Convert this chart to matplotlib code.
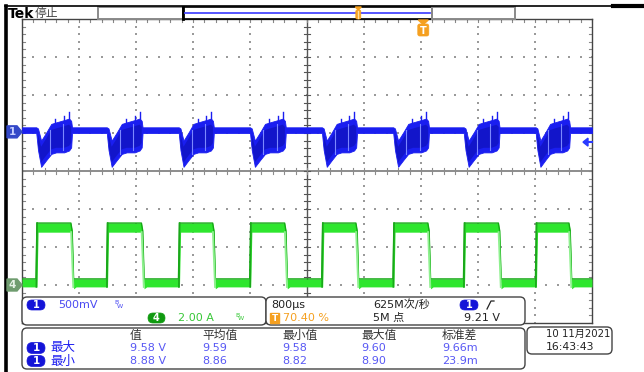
import numpy as np
import matplotlib
matplotlib.use("Agg")
import matplotlib.pyplot as plt
from matplotlib.patches import FancyBboxPatch, Rectangle, Polygon

plt.rcParams["font.family"] = ["DejaVu Sans", "Noto Sans CJK SC"]

W, H, DPI = 644, 372, 100

# ---- acquisition settings -------------------------------------------------
time_per_div_ms = 0.8          # 800 µs/div
n_hdiv, n_vdiv = 10, 8
trigger_pos_pct = 70.40
ch1_offset_div = 1.03          # channel 1 ground marker
ch4_offset_div = -3.00         # channel 4 ground marker
trig_level_div = 0.76          # 9.21 V on channel 1

# ---- channel 4 (2.00 A/div): switching edges, ms ---------------------------
rise_ms = [0.20, 1.19, 2.20, 3.20, 4.21, 5.21, 6.20, 7.21]
fall_ms = [0.69, 1.68, 2.68, 3.69, 4.69, 5.70, 6.69, 7.68]
ch4_high_div = [-1.37, -1.61]   # top / bottom of the trace band
ch4_low_div = [-2.84, -3.05]

# ---- channel 1 (500 mV/div) -----------------------------------------------
ch1_flat_div = [1.15, 1.00]
# disturbance during the on-time: fraction of on-time, upper and lower edge (div)
ch1_burst_frac = [0.00, 0.05, 0.14, 0.29, 0.43, 0.57, 0.80, 0.94, 1.00]
ch1_burst_top = [1.15, 1.12, 0.80, 1.02, 1.24, 1.28, 1.34, 1.38, 1.32]
ch1_burst_bot = [1.00, 0.55, 0.11, 0.29, 0.45, 0.49, 0.49, 0.54, 0.62]
ch1_spike_frac = [0.55, 0.80, 0.95]
ch1_spike_top = [1.38, 1.44, 1.55]
ch1_streak_frac = [0.38, 0.76]

# ---- readouts -------------------------------------------------------------
ch1_scale = "500mV"
ch4_scale = "2.00 A"
timebase = "800µs"
trig_pos_text = "70.40 %"
sample_rate = "625M次/秒"
record_len = "5M 点"
trig_level = "9.21 V"
meas_headers = ["值", "平均值", "最小值", "最大值", "标准差"]
meas_rows = ["最大", "最小"]
meas_max = ["9.58 V", "9.59", "9.58", "9.60", "9.66m"]
meas_min = ["8.88 V", "8.86", "8.82", "8.90", "23.9m"]
date_text = "10 11月2021"
time_text = "16:43:43"

BLUE = "#1a1ef0"
BLUE_TXT = "#4a4af2"
GREEN = "#2ee62e"
ORANGE = "#f5a020"

fig = plt.figure(figsize=(W / DPI, H / DPI), dpi=DPI)
fig.patch.set_facecolor("white")

# graticule box in pixels
gx0, gy0, gx1, gy1 = 22, 19, 592, 323
ax = fig.add_axes([gx0 / W, 1 - gy1 / H, (gx1 - gx0) / W, (gy1 - gy0) / H])
tmax = time_per_div_ms * n_hdiv
ax.set_xlim(0, tmax)
ax.set_ylim(-n_vdiv / 2, n_vdiv / 2)
ax.set_xticks([])
ax.set_yticks([])
for s in ax.spines.values():
    s.set_color("#444444")
    s.set_linewidth(1.0)

# dotted graticule
minor_x = np.arange(0, tmax + 1e-9, time_per_div_ms / 5)
minor_y = np.arange(-4, 4 + 1e-9, 0.2)
for k in range(1, n_hdiv):
    if k == n_hdiv // 2:
        continue
    ax.scatter(np.full_like(minor_y, k * time_per_div_ms), minor_y, s=1.2,
               marker="s", color="#9a9a9a", linewidths=0, zorder=1)
for k in range(-3, 4):
    if k == 0:
        continue
    ax.scatter(minor_x, np.full_like(minor_x, k), s=1.2, marker="s",
               color="#9a9a9a", linewidths=0, zorder=1)

# centre cross-hair with minor ticks
tx = 3 * time_per_div_ms / 57
ty = 3 / 38
ax.axvline(tmax / 2, color="#555555", lw=1.0, zorder=1)
ax.axhline(0, color="#8c8c8c", lw=1.4, zorder=1)
for yv in minor_y:
    ax.plot([tmax / 2 - tx, tmax / 2 + tx], [yv, yv], color="#555555", lw=0.8, zorder=1)
    ax.plot([0, tx], [yv, yv], color="#888888", lw=0.8, zorder=1)
    ax.plot([tmax - tx, tmax], [yv, yv], color="#888888", lw=0.8, zorder=1)
for xv in minor_x:
    ax.plot([xv, xv], [-ty, ty], color="#8c8c8c", lw=0.8, zorder=1)
    ax.plot([xv, xv], [4 - ty, 4], color="#888888", lw=0.8, zorder=1)

# channel 4 trace
t4, top4, bot4 = [0.0], [ch4_low_div[0]], [ch4_low_div[1]]
for r, f in zip(rise_ms, fall_ms):
    t4 += [r - 0.004, r + 0.010, r + 0.026, f - 0.004, f + 0.014, f + 0.034, f + 0.07]
    top4 += [ch4_low_div[0], ch4_high_div[0], ch4_high_div[0], ch4_high_div[0],
             ch4_high_div[0] - 0.2, ch4_low_div[0], ch4_low_div[0]]
    bot4 += [ch4_low_div[1], ch4_low_div[1], ch4_high_div[1], ch4_high_div[1],
             ch4_low_div[1] + 0.4, ch4_low_div[1] - 0.05, ch4_low_div[1]]
t4.append(tmax)
top4.append(ch4_low_div[0])
bot4.append(ch4_low_div[1])
ax.fill_between(t4, bot4, top4, color=GREEN, lw=0, zorder=3)
ax.plot(t4, top4, color="#14a814", lw=1.0, zorder=4)
for r, f in zip(rise_ms, fall_ms):
    ax.plot([r + 0.002, r + 0.012], [ch4_low_div[1], ch4_high_div[0]], color="#1aa81a", lw=1.2, zorder=4)
    ax.plot([f, f + 0.03], [ch4_high_div[1], ch4_low_div[1]], color="#8ef08e", lw=1.4, zorder=4)

# channel 1 trace
t1, top1, bot1 = [0.0], [ch1_flat_div[0]], [ch1_flat_div[1]]
for r, f in zip(rise_ms, fall_ms):
    on = f - r
    for fr, a, b in zip(ch1_burst_frac, ch1_burst_top, ch1_burst_bot):
        t1.append(r + fr * on)
        top1.append(a)
        bot1.append(b)
    t1.append(f + 0.012)
    top1.append(ch1_flat_div[0])
    bot1.append(ch1_flat_div[1])
t1.append(tmax)
top1.append(ch1_flat_div[0])
bot1.append(ch1_flat_div[1])
t1 = np.array(t1)
top1 = np.array(top1)
bot1 = np.array(bot1)
ax.fill_between(t1, bot1, top1, color=BLUE, lw=0.6, edgecolor=BLUE, zorder=5)
inner_top = top1 - 0.16
inner_bot = bot1 + 0.12
ok = inner_top > inner_bot + 0.05
ax.fill_between(t1, inner_bot, inner_top, where=ok, color="#0a0c9c", alpha=0.45,
                lw=0, zorder=5)
for r, f in zip(rise_ms, fall_ms):
    on = f - r
    for fr, h in zip(ch1_spike_frac, ch1_spike_top):
        tt = r + fr * on
        ax.plot([tt, tt], [np.interp(tt, t1, top1) - 0.05, h], color=BLUE, lw=1.0, zorder=6)
    for fr in ch1_streak_frac:
        tt = r + fr * on
        ax.plot([tt, tt], [np.interp(tt, t1, bot1) + 0.05, np.interp(tt, t1, top1) - 0.08],
                color="#7c88ff", lw=0.8, zorder=7)

# ---- overlay in pixel units ----------------------------------------------
ov = fig.add_axes([0, 0, 1, 1], facecolor="none")
ov.set_xlim(0, W)
ov.set_ylim(H, 0)
ov.axis("off")


def div_to_py(d):
    return (gy0 + gy1) / 2 - d * (gy1 - gy0) / n_vdiv


def pill(x, y, w, h, color, label, fs=7):
    ov.add_patch(FancyBboxPatch((x, y), w, h, boxstyle=f"round,pad=0,rounding_size={h / 2}",
                                fc=color, ec=color, lw=0.5, zorder=10))
    ov.text(x + w / 2, y + h / 2 + 0.3, label, color="white", fontsize=fs, fontweight="bold",
            ha="center", va="center", zorder=11)


def box(x, y, w, h):
    ov.add_patch(FancyBboxPatch((x, y), w, h, boxstyle="round,pad=0,rounding_size=5",
                                fc="white", ec="#444444", lw=1.0, zorder=8))


# frame lines
ov.plot([5, 613], [6, 6], color="black", lw=1.2)
ov.plot([613, 644], [6, 6], color="black", lw=3)
ov.plot([6, 6], [6, H], color="black", lw=2.6)

# header
ov.text(8, 13.5, "Tek", fontsize=10, fontweight="bold", color="black", va="center", ha="left")
ov.text(35, 13.5, "停止", fontsize=8.5, color="#444444", va="center", ha="left")

# record view bar
ov.add_patch(Rectangle((98, 7), 85, 12, fc="none", ec="#8a8a8a", lw=1.4))
ov.add_patch(Rectangle((183, 7), 249, 12, fc="none", ec="black", lw=1.2))
ov.plot([183, 183], [7, 19], color="black", lw=2)
ov.add_patch(Rectangle((432, 7), 83, 12, fc="none", ec="#8a8a8a", lw=1.4))
ov.plot([185, 430], [12.5, 12.5], color="#4848ff", lw=1.3)
bar_x = 183 + 249 * trigger_pos_pct / 100
ov.add_patch(Polygon([[bar_x - 3, 7], [bar_x + 3, 7], [bar_x, 10]], color=ORANGE, zorder=6))
ov.add_patch(FancyBboxPatch((bar_x - 2.5, 10), 5, 9, boxstyle="round,pad=0,rounding_size=1.5",
                            fc=ORANGE, ec=ORANGE, lw=0.5, zorder=6))
ov.plot([bar_x, bar_x], [11, 18], color="#ffe0a0", lw=1, zorder=7)

# trigger position marker on the graticule
tpx = gx0 + (gx1 - gx0) * trigger_pos_pct / 100
ov.add_patch(Polygon([[tpx - 5, 20], [tpx + 5, 20], [tpx, 24.5]], color=ORANGE, zorder=6))
ov.add_patch(FancyBboxPatch((tpx - 5.5, 24), 11, 12, boxstyle="round,pad=0,rounding_size=2",
                            fc=ORANGE, ec=ORANGE, lw=0.5, zorder=6))
ov.text(tpx, 30.5, "T", color="white", fontsize=7, fontweight="bold", ha="center", va="center", zorder=7)

# channel ground markers
for off, fc, tc, lab in [(ch1_offset_div, "#3348c8", "#c8d0ff", "1"),
                         (ch4_offset_div, "#6f9c6f", "#e6f2e6", "4")]:
    py = div_to_py(off)
    ov.add_patch(Polygon([[7, py - 6], [17, py - 6], [22, py], [17, py + 6], [7, py + 6]],
                         color=fc, zorder=9))
    ov.text(12.5, py + 0.5, lab, color=tc, fontsize=7.5, fontweight="bold", ha="center",
            va="center", zorder=10)

# trigger level arrow
tly = div_to_py(trig_level_div)
ov.add_patch(Polygon([[583, tly], [588, tly - 4], [588, tly + 4]], color="#2a3aff", zorder=9))
ov.plot([586, 592], [tly, tly], color="#2a3aff", lw=1.5, zorder=9)

# readout boxes
box(22, 297, 244, 28)
box(266, 297, 259, 28)
box(22, 328, 503, 41)
box(527, 327, 85, 27)

# channel box
pill(27, 300, 18, 10, "#1414d8", "1")
ov.text(58, 305, ch1_scale, color=BLUE_TXT, fontsize=8, va="center", zorder=11)
ov.text(114, 302.5, "B", color=BLUE_TXT, fontsize=4.5, va="center", zorder=11)
ov.text(117, 306, "W", color=BLUE_TXT, fontsize=4.5, va="center", zorder=11)
pill(148, 313, 17, 10, "#109a10", "4")
ov.text(178, 318, ch4_scale, color="#38c838", fontsize=8, va="center", zorder=11)
ov.text(235, 315.5, "B", color="#38c838", fontsize=4.5, va="center", zorder=11)
ov.text(238, 319, "W", color="#38c838", fontsize=4.5, va="center", zorder=11)

# timebase / trigger box
ov.text(271, 305, timebase, color="#222222", fontsize=8, va="center", zorder=11)
ov.add_patch(Rectangle((270.5, 313), 9, 10, fc=ORANGE, ec=ORANGE, zorder=10))
ov.text(275, 318.5, "T", color="white", fontsize=6.5, fontweight="bold", ha="center", va="center", zorder=11)
ov.text(283, 318, trig_pos_text, color=ORANGE, fontsize=8, va="center", zorder=11)
ov.text(373, 305, sample_rate, color="#222222", fontsize=8, va="center", zorder=11)
ov.text(373, 318, record_len, color="#222222", fontsize=8, va="center", zorder=11)
pill(460, 300, 18, 10, "#1414d8", "1")
ov.plot([487, 491, 494], [309, 301, 301], color="#222222", lw=0.9, zorder=11)
ov.text(464, 318, trig_level, color="#222222", fontsize=8, va="center", zorder=11)

# measurement table
col_x = [130, 202, 282, 361, 442]
for cx, hdr in zip(col_x, meas_headers):
    ov.text(cx, 335, hdr, color="#333333", fontsize=8.5, va="center", zorder=11)
for ry, name, vals in [(348, meas_rows[0], meas_max), (361, meas_rows[1], meas_min)]:
    pill(27, ry - 5.5, 18, 11, "#1414d8", "1", fs=7.5)
    ov.text(50, ry, name, color="#1e1ef0", fontsize=9, va="center", zorder=11)
    for cx, v in zip(col_x, vals):
        ov.text(cx, ry, v, color="#5858f4", fontsize=8, va="center", zorder=11)

# date / time
ov.text(546, 334, date_text, color="#222222", fontsize=7.3, va="center", zorder=11)
ov.text(546, 347, time_text, color="#222222", fontsize=7.8, va="center", zorder=11)

fig.savefig("out.png", dpi=DPI, facecolor="white")
